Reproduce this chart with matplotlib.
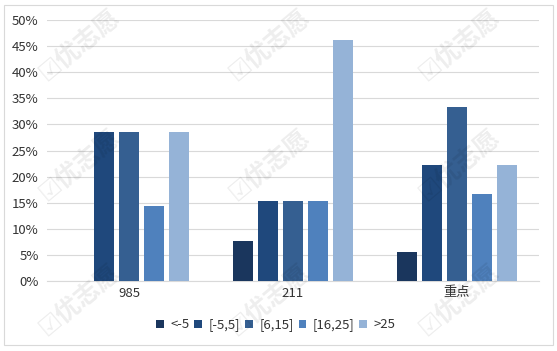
import matplotlib
matplotlib.use('Agg')
import matplotlib.pyplot as plt
from matplotlib.patches import Rectangle
from matplotlib.ticker import PercentFormatter
import numpy as np

plt.rcParams['font.family'] = ['Noto Sans CJK SC', 'DejaVu Sans']

# data
categories = ['985', '211', '重点']
series_names = ['<-5', '[-5,5]', '[6,15]', '[16,25]', '>25']
values = [
    [0.0, 7.7, 5.6],       # <-5
    [28.6, 15.4, 22.2],    # [-5,5]
    [28.6, 15.4, 33.3],    # [6,15]
    [14.3, 15.4, 16.7],    # [16,25]
    [28.6, 46.2, 22.2],    # >25
]
colors = ['#1a365d', '#1f487c', '#355f91', '#4f81bd', '#95b3d7']

fig = plt.figure(figsize=(5.57, 3.51), dpi=100)
W, H = 557.0, 351.0

# chart border
fig.patches.append(Rectangle((4 / W, 1 - 345 / H), 549 / W, 340 / H,
                             transform=fig.transFigure, fill=False,
                             edgecolor='#d9d9d9', linewidth=0.8))

ax = fig.add_axes([47 / W, 1 - 281 / H, 492 / W, 261 / H])

x = np.arange(len(categories))
step = 25 / 164.0
width = 20 / 164.0
for i, (name, vals) in enumerate(zip(series_names, values)):
    ax.bar(x + (i - 2) * step, vals, width=width, color=colors[i],
           label=name, zorder=3)

ax.set_xlim(-0.5, len(categories) - 0.5)
ax.set_ylim(0, 50)
ax.set_yticks(np.arange(0, 51, 5))
ax.yaxis.set_major_formatter(PercentFormatter(decimals=0))
ax.set_xticks(x)
ax.set_xticklabels(categories)
ax.tick_params(axis='both', length=0, labelsize=9.5, colors='#333333')
ax.tick_params(axis='y', pad=6)
ax.tick_params(axis='x', pad=4)
ax.grid(axis='y', color='#d9d9d9', linewidth=0.8, zorder=0)
for s in ['top', 'right', 'left']:
    ax.spines[s].set_visible(False)
ax.spines['bottom'].set_color('#d9d9d9')
ax.spines['bottom'].set_linewidth(0.8)

leg = fig.legend(loc='center', bbox_to_anchor=(276 / W, 1 - 325 / H),
                 ncol=5, frameon=False, fontsize=9.5,
                 handlelength=0.6, handleheight=0.6, handletextpad=0.5,
                 columnspacing=0.35, labelcolor='#333333')

# watermark
for wx in [80, 270, 460]:
    for wy in [45, 165, 300]:
        fig.text(wx / W, 1 - wy / H, '☑优志愿', fontsize=18, rotation=40,
                 ha='center', va='center', color='black', alpha=0.07,
                 fontweight='bold', zorder=10)

fig.savefig('out.png', dpi=100)
